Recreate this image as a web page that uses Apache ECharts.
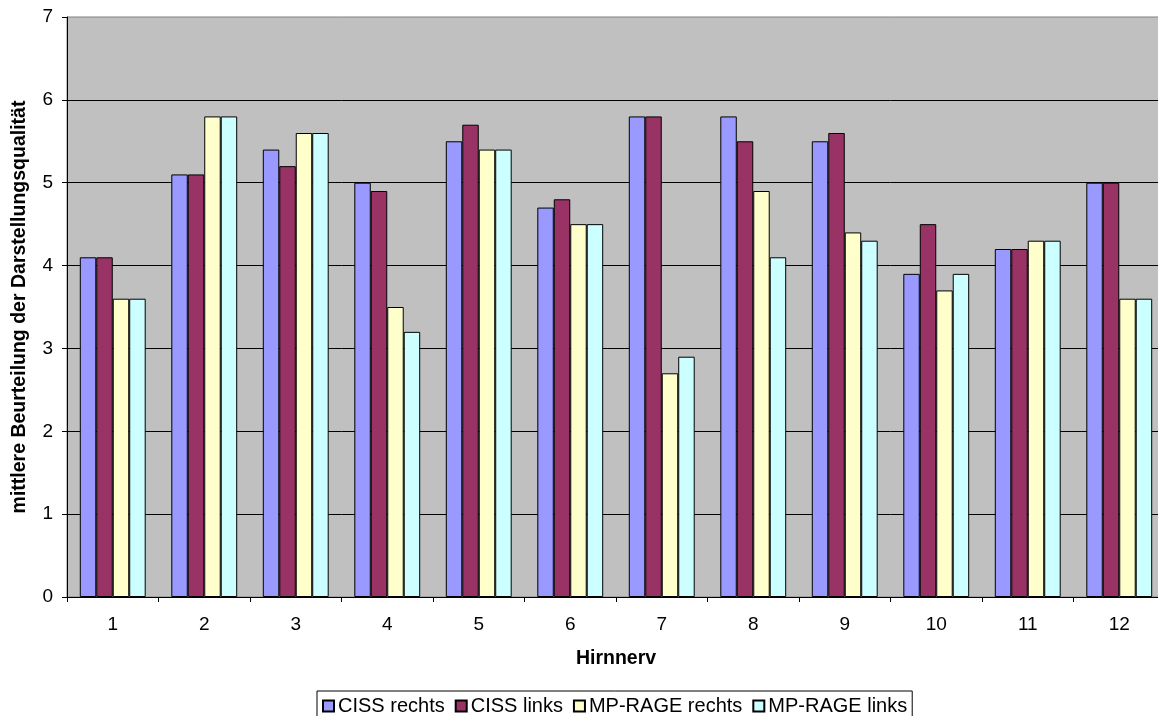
<!DOCTYPE html>
<html>
<head>
<meta charset="utf-8">
<script src="https://cdn.jsdelivr.net/npm/echarts@6/dist/echarts.min.js"></script>
<style>html,body{margin:0;padding:0;background:#fff;overflow:hidden;width:1158px;height:716px;}#c{width:1165px;height:716px;}</style>
</head>
<body>
<div id="c"></div>
<script>
const categories = ['1','2','3','4','5','6','7','8','9','10','11','12'];
const cissRechts = [4.1, 5.1, 5.4, 5.0, 5.5, 4.7, 5.8, 5.8, 5.5, 3.9, 4.2, 5.0];
const cissLinks = [4.1, 5.1, 5.2, 4.9, 5.7, 4.8, 5.8, 5.5, 5.6, 4.5, 4.2, 5.0];
const mpRageRechts = [3.6, 5.8, 5.6, 3.5, 5.4, 4.5, 2.7, 4.9, 4.4, 3.7, 4.3, 3.6];
const mpRageLinks = [3.6, 5.8, 5.6, 3.2, 5.4, 4.5, 2.9, 4.1, 4.3, 3.9, 4.3, 3.6];
const seriesNames = ['CISS rechts', 'CISS links', 'MP-RAGE rechts', 'MP-RAGE links'];
const seriesColors = ['#9999FF', '#993366', '#FFFFCC', '#CCFFFF'];
const seriesData = [cissRechts, cissLinks, mpRageRechts, mpRageLinks];
const yTicks = [0, 1, 2, 3, 4, 5, 6, 7];

const FONT = "'Liberation Sans', Arial, sans-serif";
const chart = echarts.init(document.getElementById('c'), null, {renderer: 'canvas'});
chart.setOption({
  animation: false,
  backgroundColor: '#ffffff',
  textStyle: {fontFamily: FONT},
  grid: {
    left: 67, top: 17, right: 0, height: 580,
    show: true, backgroundColor: '#C0C0C0', borderColor: '#808080', borderWidth: 1
  },
  legend: {
    data: seriesNames,
    left: 317, top: 691,
    orient: 'horizontal',
    itemWidth: 11, itemHeight: 11, itemGap: 10,
    padding: [5, 5, 12, 5],
    borderColor: '#000', borderWidth: 1,
    icon: 'rect',
    textStyle: {fontFamily: FONT, fontSize: 20, color: '#000', padding: [0, 0, 0, -1]}
  },
  xAxis: {
    type: 'category',
    data: categories,
    name: 'Hirnnerv',
    nameLocation: 'middle',
    nameGap: 52,
    nameTextStyle: {fontFamily: FONT, fontSize: 19.5, fontWeight: 'bold', color: '#000'},
    axisLine: {lineStyle: {color: '#000', width: 1}},
    axisTick: {show: true, length: 5, lineStyle: {color: '#000'}},
    axisLabel: {fontFamily: FONT, fontSize: 19, color: '#000', margin: 18},
    splitLine: {show: false}
  },
  yAxis: {
    type: 'value',
    min: 0, max: 7, interval: 1,
    name: 'mittlere Beurteilung der Darstellungsqualität',
    nameLocation: 'middle',
    nameGap: 37,
    nameTextStyle: {fontFamily: FONT, fontSize: 19.5, fontWeight: 'bold', color: '#000'},
    axisLine: {show: true, lineStyle: {color: '#000', width: 1}},
    axisTick: {show: true, length: 5, lineStyle: {color: '#000'}},
    axisLabel: {fontFamily: FONT, fontSize: 19, color: '#000', margin: 14,
      formatter: v => yTicks.includes(v) ? String(v) : ''},
    splitLine: {show: true, showMaxLine: false, lineStyle: {color: '#000', width: 1}}
  },
  series: seriesNames.map((n, i) => ({
    name: n,
    type: 'bar',
    data: seriesData[i],
    barGap: '0%',
    barCategoryGap: '28%',
    itemStyle: {color: seriesColors[i], borderColor: '#000', borderWidth: 1}
  }))
});
</script>
</body>
</html>
